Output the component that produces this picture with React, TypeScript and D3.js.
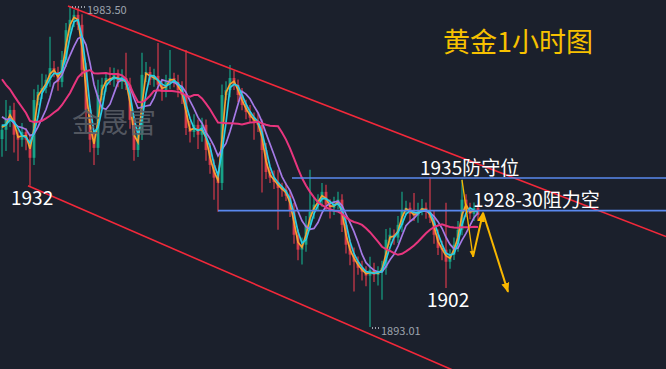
import React from 'react';
import * as d3 from 'd3';

const W = 666;
const H = 369;

// closes before the first visible candle (only feed the moving averages)
const priorCloses = [1975, 1973, 1974, 1971, 1972, 1970, 1974, 1962, 1958, 1956, 1953, 1955, 1951, 1950];
const firstOpen = 1946.0;
const closes = [
  1948.6, 1951.4, 1954.2, 1947.2, 1945.8, 1948.0, 1945.8, 1940.7, 1957.0, 1959.3,
  1960.4, 1962.7, 1966.0, 1964.9, 1962.1, 1968.3, 1976.7, 1979.6, 1981.0, 1978.2,
  1965.5, 1954.2, 1945.8, 1943.5, 1958.4, 1961.3, 1963.2, 1962.7, 1964.1, 1962.1,
  1963.2, 1961.3, 1951.4, 1942.9, 1947.2, 1964.1, 1964.9, 1962.7, 1963.8, 1961.3,
  1959.3, 1962.1, 1963.2, 1962.1, 1959.8, 1958.4, 1949.1, 1948.0, 1950.0, 1947.2,
  1950.0, 1942.9, 1938.7, 1935.1, 1933.6, 1958.4, 1959.8, 1963.2, 1961.3, 1958.4,
  1955.6, 1953.6, 1952.0, 1950.8, 1950.0, 1942.9, 1936.7, 1935.1, 1933.9, 1932.2,
  1931.7, 1930.0, 1926.0, 1919.0, 1914.8, 1916.2, 1921.8, 1925.5, 1927.5, 1928.9,
  1931.1, 1927.5, 1926.6, 1927.7, 1928.9, 1921.8, 1916.2, 1913.4, 1911.4, 1909.7,
  1908.6, 1907.5, 1909.1, 1907.7, 1908.6, 1909.7, 1917.6, 1919.0, 1918.2, 1921.8,
  1926.0, 1926.6, 1924.9, 1924.4, 1926.0, 1926.6, 1925.5, 1923.8, 1919.0, 1915.3,
  1914.8, 1911.4, 1913.4, 1916.2, 1920.4, 1928.9, 1926.0, 1924.9, 1926.6, 1924.6,
];
const wickUp = [
  1.5, 5.6, 1.2, 2.0, 1.5, 2.5, 1.0, 1.5, 3.0, 2.0,
  4.0, 1.5, 8.8, 2.0, 1.5, 2.5, 2.0, 3.9, 1.5, 2.0,
  3.0, 2.0, 1.5, 2.0, 4.3, 2.0, 1.5, 3.0, 2.0, 1.5,
  2.5, 7.1, 2.0, 1.5, 2.0, 6.2, 2.8, 1.5, 2.0, 9.3,
  1.5, 2.0, 7.9, 1.5, 2.0, 2.5, 12.7, 2.0, 3.0, 1.5,
  2.0, 1.5, 2.0, 1.5, 1.5, 3.0, 2.5, 3.7, 2.0, 1.5,
  2.0, 1.5, 2.0, 1.5, 2.5, 1.5, 2.0, 1.5, 2.0, 3.4,
  1.5, 2.0, 1.5, 2.0, 1.5, 2.0, 2.5, 11.8, 2.0, 1.5,
  2.5, 2.0, 1.5, 2.0, 2.2, 1.5, 2.0, 1.5, 2.0, 1.5,
  2.0, 1.5, 3.7, 2.0, 1.5, 2.0, 3.0, 2.0, 1.5, 2.5,
  5.1, 2.0, 1.5, 5.9, 2.0, 2.5, 1.5, 9.7, 2.0, 1.5,
  2.0, 13.2, 1.5, 2.0, 2.5, 5.6, 1.5, 2.0, 1.5, 1.0,
];
const wickDown = [
  5.0, 6.0, 2.0, 5.0, 6.0, 2.0, 3.0, 7.9, 2.0, 1.5,
  2.0, 1.5, 2.0, 1.5, 2.5, 1.5, 2.0, 1.5, 2.0, 1.5,
  2.0, 3.0, 3.5, 4.8, 2.0, 1.5, 2.0, 1.5, 2.0, 1.5,
  2.0, 1.5, 2.5, 3.0, 2.0, 1.5, 2.0, 1.5, 2.0, 1.5,
  2.5, 1.5, 2.0, 1.5, 2.0, 2.5, 2.0, 3.0, 1.5, 4.0,
  2.0, 3.0, 2.5, 6.2, 8.1, 2.0, 1.5, 2.0, 1.5, 2.0,
  1.5, 2.0, 1.5, 5.0, 2.0, 12.0, 2.0, 1.5, 2.0, 11.8,
  2.0, 1.5, 2.0, 2.5, 3.0, 4.2, 2.0, 1.5, 2.0, 1.5,
  2.0, 1.5, 3.0, 2.0, 1.5, 2.0, 2.5, 3.0, 8.4, 2.0,
  2.5, 3.0, 14.5, 2.0, 3.0, 7.9, 2.0, 1.5, 2.0, 1.5,
  2.0, 1.5, 2.0, 1.5, 2.0, 1.5, 2.0, 1.5, 2.5, 2.0,
  3.0, 7.4, 2.0, 1.5, 2.0, 1.5, 2.0, 1.5, 2.0, 1.5,
];

const maPeriods = [2, 6, 3, 15];
const maColors = ['#f6a232', '#a57ae6', '#29cde4', '#e8357e'];
const maWidths = [1.7, 1.7, 1.7, 2];

const levelPrices = [1935.0, 1925.8];
const levelStarts = [72.5, 54];
const levelLabels = ['1935防守位', '1928-30阻力空'];

const upperTrend: [number, number][] = [[16.5, 1983.5], [166, 1918.5]];
const lowerTrend: [number, number][] = [[6.5, 1932.8], [166, 1854.8]];

const arrowPoints: [number, number][] = [[115, 1934.5], [117.75, 1912.8], [120.25, 1925.2], [126.5, 1902.9]];

const highLabel = { index: 17, text: '1983.50' };
const lowLabel = { index: 92, text: '1893.01' };
const swingLabels = [
  { index: 7, text: '1932' },
  { index: 111, text: '1902' },
];
const title = '黄金1小时图';
const watermark = '金晟富';

const FONT = '"Noto Sans CJK SC", "Noto Sans", sans-serif';

export default function App() {
  const x = d3.scaleLinear().domain([0, 166]).range([2, 666]);
  const y = d3.scaleLinear().domain([1893.0, 1983.5]).range([327, 6]);

  const candles = closes.map((c, i) => {
    const o = i === 0 ? firstOpen : closes[i - 1];
    const hi = Math.max(o, c) + wickUp[i];
    const lo = Math.min(o, c) - wickDown[i];
    return { i, o, c, hi, lo };
  });

  const all = priorCloses.concat(closes);
  const P = priorCloses.length;
  const mas = maPeriods.map((n) =>
    closes.map((_, i) => {
      const end = i + P;
      const start = Math.max(0, end - n + 1);
      return d3.mean(all.slice(start, end + 1)) as number;
    })
  );

  const line = d3
    .line<number>()
    .x((_, i) => x(i))
    .y((d) => y(d))
    .curve(d3.curveLinear);

  const tline = d3
    .line<[number, number]>()
    .x((d) => x(d[0]))
    .y((d) => y(d[1]));

  const hiC = candles[highLabel.index];
  const loC = candles[lowLabel.index];

  return (
    <svg
      width={W}
      height={H}
      style={{ position: 'absolute', left: 0, top: 0, display: 'block' }}
      fontFamily={FONT}
    >
      <defs>
        <marker id="ah" viewBox="0 0 10 10" refX="9" refY="5" markerWidth="5" markerHeight="5" orient="auto">
          <path d="M0,1 L10,5 L0,9 Z" fill="#f9b700" />
        </marker>
      </defs>
      <rect x={0} y={0} width={W} height={H} fill="#1b202c" />

      {candles.map((d) => {
        const up = d.c >= d.o;
        const col = up ? '#17a387' : '#d83a4c';
        const cx = x(d.i);
        const top = y(Math.max(d.o, d.c));
        const bot = y(Math.min(d.o, d.c));
        return (
          <g key={d.i}>
            <line x1={cx} x2={cx} y1={y(d.hi)} y2={y(d.lo)} stroke={col} strokeWidth={1.2} />
            <rect x={cx - 1.4} y={top} width={2.8} height={Math.max(1, bot - top)} fill={col} />
          </g>
        );
      })}

      {mas.map((m, k) => (
        <path key={k} d={line(m) || ''} fill="none" stroke={maColors[k]} strokeWidth={maWidths[k]} />
      ))}

      <text x={72} y={133} fontSize={28} fill="#5a5e67" fillOpacity={0.9}>
        {watermark}
      </text>

      <path d={tline(upperTrend) || ''} stroke="#f2283a" strokeWidth={1.6} fill="none" />
      <path d={tline(lowerTrend) || ''} stroke="#f2283a" strokeWidth={1.6} fill="none" />

      {levelPrices.map((p, k) => (
        <line key={k} x1={x(levelStarts[k])} x2={W} y1={y(p)} y2={y(p)} stroke="#5a88ee" strokeWidth={1.6} />
      ))}

      <path d={tline(arrowPoints.slice(0, 2)) || ''} stroke="#f9b700" strokeWidth={1.3} fill="none" markerEnd="url(#ah)" />
      <path d={tline(arrowPoints.slice(1, 3)) || ''} stroke="#f9b700" strokeWidth={2} fill="none" markerEnd="url(#ah)" />
      <path d={tline(arrowPoints.slice(2, 4)) || ''} stroke="#f9b700" strokeWidth={2} fill="none" markerEnd="url(#ah)" />

      {/* extreme labels */}
      <line x1={x(highLabel.index) + 2} x2={x(highLabel.index) + 16} y1={y(hiC.hi) + 1} y2={y(hiC.hi) + 1} stroke="#9da3ad" strokeWidth={2} strokeDasharray="1 2" />
      <text x={x(highLabel.index) + 17} y={y(hiC.hi) + 8} fontSize={11} fill="#9da3ad">
        {highLabel.text}
      </text>
      <line x1={x(lowLabel.index) + 2} x2={x(lowLabel.index) + 10} y1={y(loC.lo) + 1} y2={y(loC.lo) + 1} stroke="#9da3ad" strokeWidth={2} strokeDasharray="1 2" />
      <text x={x(lowLabel.index) + 11} y={y(loC.lo) + 8} fontSize={11} fill="#9da3ad">
        {lowLabel.text}
      </text>

      {swingLabels.map((s) => {
        const c = candles[s.index];
        return (
          <text key={s.text} x={x(s.index) - 19} y={y(c.lo) + 19} fontSize={19} fill="#ffffff">
            {s.text}
          </text>
        );
      })}

      <text x={420} y={y(levelPrices[0]) - 3} fontSize={19} fill="#ffffff">
        {levelLabels[0]}
      </text>
      <text x={473} y={y(levelPrices[1]) - 4} fontSize={19} fill="#ffffff">
        {levelLabels[1]}
      </text>

      <text x={443} y={52} fontSize={27} fill="#f7c100">
        {title}
      </text>
    </svg>
  );
}
